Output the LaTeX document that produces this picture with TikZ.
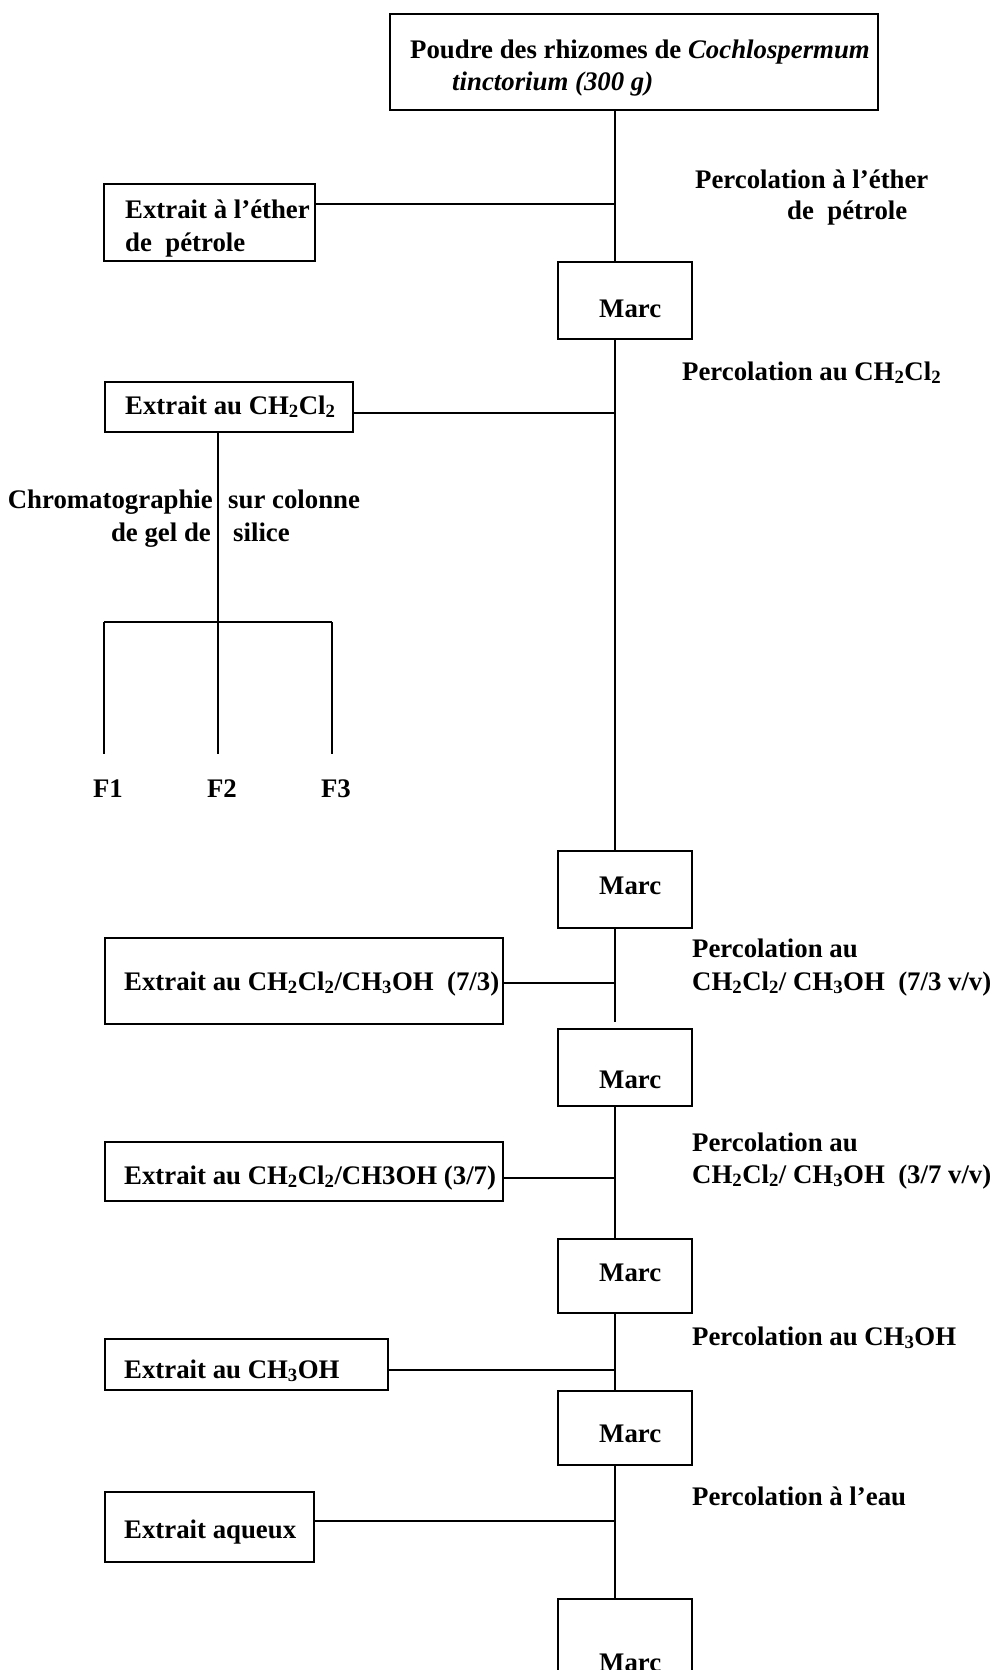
\documentclass[tikz,border=0pt]{standalone}
\usepackage{fontspec}
\setmainfont{Liberation Serif}
\newcommand{\sub}[1]{\textsubscript{#1}}
\begin{document}
\begin{tikzpicture}[x=1pt,y=-1pt,
  box/.style={draw, line width=1.8pt, anchor=north west, inner sep=0pt},
  txt/.style={anchor=base west, inner sep=0pt, font=\fontsize{26.8}{30}\selectfont\bfseries},
  txte/.style={txt, anchor=base east},
  txtc/.style={txt, anchor=base},
  conn/.style={line width=1.8pt},
  vconn/.style={line width=1.4pt}]
\useasboundingbox (0,0) rectangle (995,1670);
\clip (0,0) rectangle (995,1670);
\coordinate (mx) at (615,0);
% top box
\node[box, minimum width=488pt, minimum height=96pt] (top) at (389,13) {};
\node[txt] (t1) at (410,59) {Poudre des rhizomes de \textit{Cochlospermum}};
\node[txt] (t1b) at (452,90) {\textit{tinctorium (300 g)}};
% step 1
\node[txt] (p1) at (695,188) {Percolation à l’éther};
\node[txt] (p1b) at (787,219) {de\ \ pétrole};
\node[box, minimum width=211pt, minimum height=77pt] (e1) at (103,183) {};
\node[txt] (e1t) at (125,218) {Extrait à l’éther};
\node[txt] (e1u) at (125,251) {de\ \ pétrole};
\node[box, minimum width=134pt, minimum height=77pt] (m1) at (557,261) {};
\node[txt] (m1t) at (599,317) {Marc};
\coordinate (j1) at (615,204);
\draw[vconn] (top.south -| mx) -- (m1.north -| mx);
\draw[conn] (j1) -- (j1 -| e1.east);
% step 2
\node[txt] (p2) at (682,380) {Percolation au CH\sub{2}Cl\sub{2}};
\node[box, minimum width=248pt, minimum height=50pt] (e2) at (104,381) {};
\node[txt] (e2t) at (125,414) {Extrait au CH\sub{2}Cl\sub{2}};
\node[box, minimum width=134pt, minimum height=77pt] (m2) at (557,850) {};
\node[txt] (m2t) at (599,894) {Marc};
\coordinate (j2) at (615,413);
\draw[vconn] (m1.south -| mx) -- (m2.north -| mx);
\draw[conn] (j2) -- (j2 -| e2.east);
% chromatography
\coordinate (cx) at (218,0);
\coordinate (bar) at (218,622);
\coordinate (l1) at (104,622);
\coordinate (l3) at (332,622);
\node[txtc] (f1) at (108,797) {F1};
\node[txtc] (f2) at (222,797) {F2};
\node[txtc] (f3) at (336,797) {F3};
\draw[vconn] (e2.south -| cx) -- (bar);
\draw[conn] (l1) -- (l3);
\draw[conn] (l1) -- (104,754);
\draw[conn] (bar) -- (218,754);
\draw[conn] (l3) -- (332,754);
\node[txte] (c1) at (213,508) {Chromatographie};
\node[txt] (c2) at (228,508) {sur colonne};
\node[txte] (c3) at (211,541) {de gel de};
\node[txt] (c4) at (233,541) {silice};
% step 3
\node[txt] (p3) at (692,957) {Percolation au};
\node[txt] (p3b) at (692,990) {CH\sub{2}Cl\sub{2}/ CH\sub{3}OH\ \ (7/3 v/v)};
\node[box, minimum width=398pt, minimum height=86pt] (e3) at (104,937) {};
\node[txt] (e3t) at (124,990) {Extrait au CH\sub{2}Cl\sub{2}/CH\sub{3}OH\ \ (7/3)};
\node[box, minimum width=134pt, minimum height=77pt] (m3) at (557,1028) {};
\node[txt] (m3t) at (599,1088) {Marc};
\coordinate (j3) at (615,983);
\coordinate (end3) at (615,1022);
\draw[conn] (m2.south -| mx) -- (end3);
\draw[conn] (j3) -- (j3 -| e3.east);
% step 4
\node[txt] (p4) at (692,1151) {Percolation au};
\node[txt] (p4b) at (692,1183) {CH\sub{2}Cl\sub{2}/ CH\sub{3}OH\ \ (3/7 v/v)};
\node[box, minimum width=398pt, minimum height=59pt] (e4) at (104,1141) {};
\node[txt] (e4t) at (124,1184) {Extrait au CH\sub{2}Cl\sub{2}/CH3OH (3/7)};
\node[box, minimum width=134pt, minimum height=74pt] (m4) at (557,1238) {};
\node[txt] (m4t) at (599,1281) {Marc};
\coordinate (j4) at (615,1178);
\draw[vconn] (m3.south -| mx) -- (m4.north -| mx);
\draw[conn] (j4) -- (j4 -| e4.east);
% step 5
\node[txt] (p5) at (692,1345) {Percolation au CH\sub{3}OH};
\node[box, minimum width=283pt, minimum height=51pt] (e5) at (104,1338) {};
\node[txt] (e5t) at (124,1378) {Extrait au CH\sub{3}OH};
\node[box, minimum width=134pt, minimum height=74pt] (m5) at (557,1390) {};
\node[txt] (m5t) at (599,1442) {Marc};
\coordinate (j5) at (615,1370);
\draw[vconn] (m4.south -| mx) -- (m5.north -| mx);
\draw[conn] (j5) -- (j5 -| e5.east);
% step 6
\node[txt] (p6) at (692,1505) {Percolation à l’eau};
\node[box, minimum width=209pt, minimum height=70pt] (e6) at (104,1491) {};
\node[txt] (e6t) at (124,1538) {Extrait aqueux};
\node[box, minimum width=134pt, minimum height=120pt] (m6) at (557,1598) {};
\node[txt] (m6t) at (599,1671) {Marc};
\coordinate (j6) at (615,1521);
\draw[vconn] (m5.south -| mx) -- (m6.north -| mx);
\draw[conn] (j6) -- (j6 -| e6.east);
\end{tikzpicture}
\end{document}
